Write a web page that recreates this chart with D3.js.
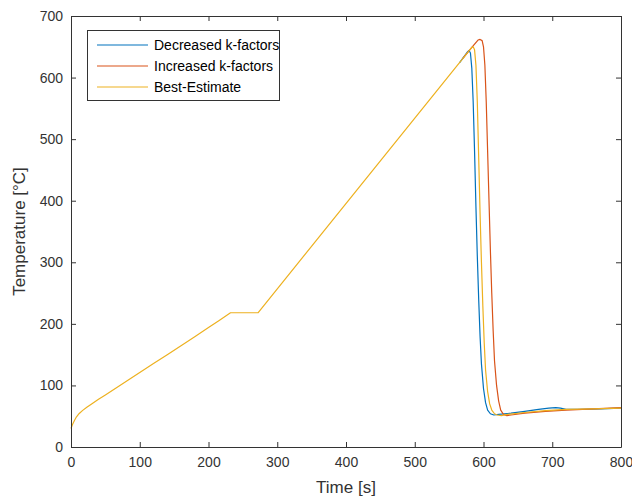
<!DOCTYPE html>
<html><head><meta charset="utf-8">
<script src="https://cdn.jsdelivr.net/npm/d3@7"></script>
<style>body{margin:0;background:#fff;} svg{display:block;font-family:"Liberation Sans",Arial,sans-serif;}</style>
</head><body>
<svg id="c" width="632" height="500"></svg>
<script>
// shared initial heating part (all three runs coincide; drawn once, by Best-Estimate on top)
const timeCommon = [0,2,5,8,12,17,23,30,40,50,65,80,100,120,140,160,180,200,215,232,272];
const tempCommon = [30,36,43,49,54.5,59.5,64.5,70,77.5,84.5,95.5,106.5,121,135.5,150,164.5,179,194,205,218,218];

// Decreased k-factors (from where it leaves the shared line)
const timeDecreased = [565,577,579,581,583,585,587,589,591,593,595,597,600,603,606,610,615,622,640,660,680,695,705,712,720,740,770,800];
const tempDecreased = [624,642,644,640,615,560,480,390,310,240,180,135,95,72,60,54,52,53,55,58,61,63,64,63,61,61,62,63];

// Increased k-factors (from where it leaves the shared line)
const timeIncreased = [570,583,592,595,598,600,602,604,606,608,610,612,614,616,619,622,625,629,634,640,660,690,720,760,800];
const tempIncreased = [631,649,661,662,660,650,620,560,480,400,320,250,190,140,100,75,60,53,51,52,55,58,60,62,64];

// Best-Estimate tail
const timeBest = [583,585,587,589,591,593,595,597,599,601,603,606,609,612,616,620,626,635,660,690,720,760,800];
const tempBest = [649,650,645,620,560,470,380,300,230,170,125,90,70,60,54,52,51,53,56,59,61,62,63];

const seriesNames = ["Decreased k-factors","Increased k-factors","Best-Estimate"];
const seriesColors = ["#0072BD","#D95319","#EDB120"];
const xTicks = [0,100,200,300,400,500,600,700,800];
const yTicks = [0,100,200,300,400,500,600,700];

function pts(ts, vs){ return ts.map((d,i)=>({t:d, v:vs[i]})); }
const series = [
  pts(timeDecreased,tempDecreased),
  pts(timeIncreased,tempIncreased),
  pts(timeCommon.concat(timeBest), tempCommon.concat(tempBest))
];

const svg = d3.select("#c");
const L=71, R=621, T=16, B=447;
const x = d3.scaleLinear().domain([0,800]).range([L,R]);
const y = d3.scaleLinear().domain([0,700]).range([B,T]);
const axisColor = "#333";

// lines
const line = d3.line().x(d=>x(d.t)).y(d=>y(d.v));
series.forEach((s,i)=>{
  svg.append("path").datum(s).attr("d",line).attr("fill","none")
    .attr("stroke",seriesColors[i]).attr("stroke-width",1.2).attr("stroke-linejoin","round");
});

// axes
const fs = "14px";
const gB = svg.append("g").attr("transform",`translate(0,${B})`)
  .call(d3.axisBottom(x).tickValues(xTicks).tickSizeInner(-5).tickSizeOuter(0).tickPadding(10));
const gT = svg.append("g").attr("transform",`translate(0,${T})`)
  .call(d3.axisTop(x).tickValues(xTicks).tickSizeInner(-5).tickSizeOuter(0).tickFormat(""));
const gL = svg.append("g").attr("transform",`translate(${L},0)`)
  .call(d3.axisLeft(y).tickValues(yTicks).tickSizeInner(-5).tickSizeOuter(0).tickPadding(8));
const gR = svg.append("g").attr("transform",`translate(${R},0)`)
  .call(d3.axisRight(y).tickValues(yTicks).tickSizeInner(-5).tickSizeOuter(0).tickFormat(""));
[gB,gT,gL,gR].forEach(g=>{
  g.selectAll("path").attr("stroke",axisColor).attr("stroke-width",1);
  g.selectAll("line").attr("stroke",axisColor);
  g.selectAll("text").attr("fill",axisColor).style("font-size",fs).style("font-family",'"Liberation Sans",Arial,sans-serif');
});

// axis labels
svg.append("text").attr("x",(L+R)/2).attr("y",493).attr("text-anchor","middle")
  .attr("fill",axisColor).style("font-size","17px").text("Time [s]");
svg.append("text").attr("transform",`translate(25,${(T+B)/2}) rotate(-90)`).attr("text-anchor","middle")
  .attr("fill",axisColor).style("font-size","17px").text("Temperature [°C]");

// legend
const lg = svg.append("g");
lg.append("rect").attr("x",87.5).attr("y",30.5).attr("width",192).attr("height",70)
  .attr("fill","#fff").attr("stroke",axisColor).attr("stroke-width",1);
seriesNames.forEach((n,i)=>{
  const cy = 45 + i*21;
  lg.append("line").attr("x1",97).attr("x2",148).attr("y1",cy).attr("y2",cy)
    .attr("stroke",seriesColors[i]).attr("stroke-width",1.2);
  lg.append("text").attr("x",154).attr("y",cy).attr("dy","0.35em")
    .attr("fill","#000").style("font-size","14px").text(n);
});
</script>
</body></html>
